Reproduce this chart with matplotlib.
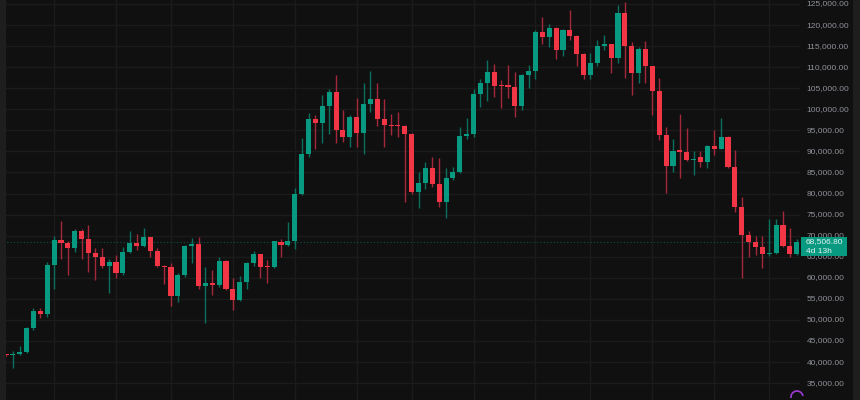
import matplotlib
matplotlib.use("Agg")
import matplotlib.pyplot as plt
import matplotlib.transforms as mtransforms
from matplotlib.patches import Rectangle, Arc
import pandas as pd

# ==========================================
# Weekly candles
# ==========================================
week_start = "2024-01-15"

opens = [
    41750, 41600, 42000, 42500, 48000, 52050, 51500, 63000, 68900, 68300,
    67000, 71200, 69200, 65800, 64900, 62900, 63800, 61200, 66050, 68300,
    67600, 69600, 66450, 62900, 62600, 55750, 60700, 67550, 68000, 58100,
    58700, 58300, 64000, 57300, 54700, 59100, 63450, 65600, 62900, 62500,
    68500, 67800, 68700, 79900, 89300, 97700, 96800, 100850, 104050, 95100,
    93350, 98250, 94300, 101250, 102450, 97700, 96300, 96200, 95950, 94150,
    80450, 82450, 86000, 82200, 78100, 83600, 85050, 93650, 94150, 103650,
    106300, 108950, 105700, 105650, 105350, 100800, 108150, 109100, 118400, 117100,
    119250, 114100, 118850, 117400, 113150, 108150, 111050, 115100, 115450, 112100,
    122800, 115100, 108550, 114300, 110300, 104450, 93900, 86600, 90150, 89950,
    88000, 88600, 87450, 91350, 90600, 93500, 86400, 76900, 70150, 68550,
    67400, 65650, 65950, 72550, 67600, 65650,
]
highs = [
    42000, 42700, 43800, 48400, 52750, 52900, 63800, 69900, 73600, 68800,
    71500, 71500, 72500, 67000, 67000, 64500, 65400, 67400, 71100, 70500,
    71750, 69800, 67000, 63000, 63400, 61200, 67800, 69400, 69800, 62600,
    61850, 65000, 64200, 59900, 60500, 63800, 66450, 65700, 64250, 68800,
    69300, 73300, 81250, 93100, 99050, 98650, 103400, 104750, 108150, 99850,
    98650, 102600, 106300, 109200, 106200, 102450, 98800, 99300, 96300, 94400,
    85200, 87400, 88750, 88500, 86000, 86400, 95700, 97900, 104750, 107100,
    111700, 110750, 106950, 110500, 108950, 108400, 110500, 118850, 122000, 120200,
    119600, 119000, 123600, 117600, 113300, 113300, 116450, 117650, 115600, 124750,
    125550, 116050, 114850, 116200, 110300, 107350, 95850, 92850, 98800, 95500,
    90150, 90150, 91550, 95100, 97850, 93600, 90350, 79100, 71200, 69900,
    69900, 73950, 73900, 75850, 71750, 69150,
]
lows = [
    41400, 38500, 41700, 42100, 47600, 50400, 50800, 57300, 64400, 60700,
    66200, 64400, 61450, 59500, 62250, 56500, 60000, 60700, 65800, 66600,
    67400, 65000, 62600, 58500, 53400, 54200, 60300, 63400, 57300, 49200,
    55900, 57900, 57100, 52400, 54500, 57300, 62900, 59900, 58850, 62250,
    65000, 67600, 66800, 79700, 88750, 90600, 92100, 94100, 91900, 92200,
    91100, 91100, 89300, 99400, 96100, 91100, 93900, 93350, 78100, 79800,
    76500, 81000, 81500, 76700, 74100, 83200, 84800, 92900, 93350, 100500,
    102050, 103000, 100250, 102600, 98250, 99850, 105150, 107200, 115500, 114700,
    111900, 112650, 116500, 110300, 107200, 107200, 110350, 114100, 108550, 110900,
    107350, 103400, 106300, 106150, 98650, 92700, 80200, 85050, 83600, 87800,
    84400, 86400, 86000, 89150, 90500, 86000, 75550, 59900, 65000, 65400,
    62400, 65150, 65650, 67400, 64850, 65400,
]
closes = [
    41600, 42000, 42500, 48000, 52050, 51500, 63000, 68900, 68300, 67000,
    71200, 69200, 65800, 64900, 62900, 63800, 61200, 66050, 68300, 67600,
    69600, 66450, 62900, 62500, 55750, 60700, 67550, 68000, 58100, 58700,
    58300, 64000, 57300, 54700, 59100, 63450, 65600, 62650, 62500, 68700,
    67750, 68700, 79900, 89300, 97700, 96800, 100850, 104050, 95100, 93350,
    98250, 94300, 101250, 102450, 97700, 96300, 96050, 95950, 94150, 80450,
    82450, 86000, 82200, 78100, 83600, 85050, 93650, 94150, 103650, 106300,
    108950, 105600, 105450, 105350, 100800, 108150, 109100, 118400, 117100, 119250,
    114100, 118850, 117400, 113150, 108150, 111050, 115100, 115450, 112100, 122800,
    115100, 108550, 114300, 110300, 104450, 93900, 86600, 90150, 89950, 88000,
    88250, 87450, 91350, 90600, 93500, 86400, 76900, 70150, 68550, 67400,
    65650, 65950, 72550, 67600, 65650, 68506.8,
]

price_ticks = list(range(35000, 125001, 5000))
last_price_label = "68,506.80"
countdown_label = "4d 13h"

# ==========================================
# Style
# ==========================================
BG = "#101010"
GRID = "#1b1b1b"
STRIP = "#1e1e1e"
UP = "#089981"
DOWN = "#f23645"
UP_WICK = "#0b6f5d"
DOWN_WICK = "#a3283a"
LABEL = "#8e9199"
FONT = "Liberation Sans"

W, H = 860, 400
Y_TOP, Y_BOTTOM = 125950, 30990
PX = (Y_TOP - Y_BOTTOM) / H   # price per pixel

dates = pd.date_range(week_start, periods=len(closes), freq="W-MON")

fig = plt.figure(figsize=(W / 100, H / 100), dpi=100, facecolor=BG)
ax = fig.add_axes([0, 0, 800 / W, 1], facecolor=BG)
ax.set_xlim(-0.87, 115.47)
ax.set_ylim(Y_BOTTOM, Y_TOP)
for s in ax.spines.values():
    s.set_visible(False)
ax.set_xticks([])
ax.set_yticks([])

# grid
for p in price_ticks:
    ax.axhline(p, color=GRID, lw=1, zorder=0)
for i in range(1, len(dates)):
    if dates[i].month != dates[i - 1].month and dates[i].month % 2 == 1:
        ax.axvline(i, color=GRID, lw=1, zorder=0)

# candles
for i, (o, h, l, c) in enumerate(zip(opens, highs, lows, closes)):
    up = c >= o
    ax.vlines(i, l, h, color=UP_WICK if up else DOWN_WICK, lw=1, zorder=2)
    ax.bar(i, max(abs(c - o), 1.3 * PX), bottom=min(o, c), width=0.74,
           color=UP if up else DOWN, lw=0, zorder=3)

# last price line
ax.axhline(closes[-1], color=UP, lw=0.8, ls=(0, (1, 2)), alpha=0.5, zorder=1)

# price scale
trans = mtransforms.blended_transform_factory(fig.transFigure, ax.transData)
for p in price_ticks:
    ax.text(806.5 / W, p, f"{p:,.2f}", transform=trans, ha="left", va="center",
            fontsize=6, color=LABEL, family=FONT, clip_on=False)

box = Rectangle((800.7 / W, closes[-1] - 14 * PX), 46 / W, 18.7 * PX,
                transform=trans, facecolor=UP, edgecolor="none", zorder=5, clip_on=False)
ax.add_patch(box)
ax.text(806 / W, closes[-1], last_price_label, transform=trans, ha="left", va="center",
        fontsize=6, color="#e6f4f1", family=FONT, zorder=6, clip_on=False)
ax.text(806 / W, closes[-1] - 9.2 * PX, countdown_label, transform=trans, ha="left",
        va="center", fontsize=6, color="#e6f4f1", family=FONT, zorder=6, clip_on=False)

# side strips
fig.patches.append(Rectangle((0, 0), 6 / W, 1, transform=fig.transFigure,
                             facecolor=STRIP, edgecolor="none", zorder=10))
fig.patches.append(Rectangle((853 / W, 0), 7 / W, 1, transform=fig.transFigure,
                             facecolor=STRIP, edgecolor="none", zorder=10))

# small purple mark near the bottom of the scale
fig.patches.append(Arc((797 / W, 3 / H), 12 / W, 12 / H, theta1=20, theta2=200,
                       transform=fig.transFigure, color="#9c3bd6", lw=1.2, zorder=11))

fig.savefig("out.png", dpi=100, facecolor=BG)
